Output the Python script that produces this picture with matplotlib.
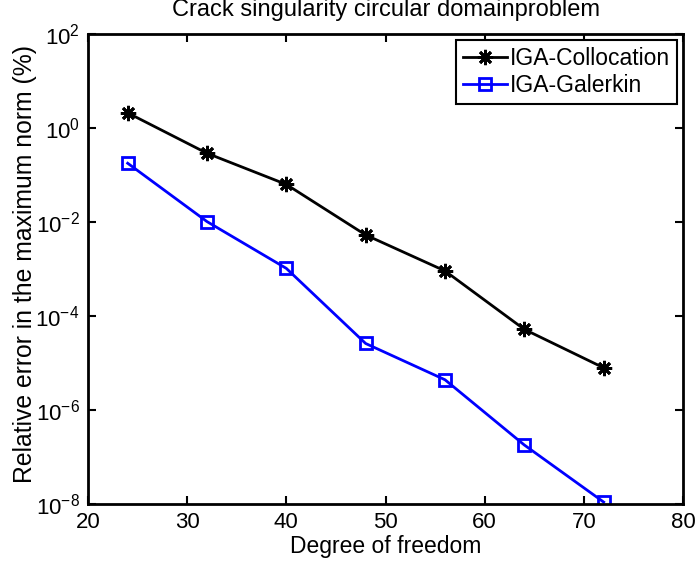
import math
import matplotlib
matplotlib.use("Agg")
import matplotlib.pyplot as plt
from matplotlib.ticker import FixedLocator, NullLocator, FuncFormatter

plt.rcParams['font.family'] = ['Liberation Sans', 'DejaVu Sans']

dof = [24, 32, 40, 48, 56, 64, 72]
colloc = [2.1, 0.29, 0.063, 0.0053, 9.1e-4, 5.2e-5, 7.9e-6]
galerkin = [0.178, 0.0102, 1.03e-3, 2.6e-5, 4.4e-6, 1.8e-7, 1.1e-8]
xticks = [20, 30, 40, 50, 60, 70, 80]
yticks = [1e-8, 1e-6, 1e-4, 1e-2, 1e0, 1e2]

fig = plt.figure(figsize=(6.97, 5.67), dpi=100)
ax = fig.add_axes([88/697, 63/567, (683-88)/697, (504-34)/567])

ax.plot(dof, colloc, color='black', lw=2, marker=(8, 2, 0), ms=11, mew=2,
        label='IGA-Collocation')
ax.plot(dof, galerkin, color='#0000ff', lw=2, marker='s', ms=9, mfc='none',
        mew=2, label='IGA-Galerkin')

ax.set_yscale('log')
ax.set_xlim(20, 80)
ax.set_ylim(1e-8, 1e2)
ax.xaxis.set_major_locator(FixedLocator(xticks))
ax.yaxis.set_major_locator(FixedLocator(yticks))
ax.yaxis.set_minor_locator(NullLocator())
ax.yaxis.set_major_formatter(FuncFormatter(
    lambda v, p: r'$\mathregular{10^{%d}}$' % round(math.log10(v))))

ax.tick_params(direction='in', top=True, right=True, length=6, width=1.5,
               labelsize=16, pad=6)
for s in ax.spines.values():
    s.set_linewidth(2)

ax.set_xlabel('Degree of freedom', fontsize=16.5, labelpad=1)
ax.set_ylabel('Relative error in the maximum norm (%)', fontsize=17.8, labelpad=-1)
ax.yaxis.label.set_y(0.51)
ax.set_title('Crack singularity circular domainproblem', fontsize=17, pad=13)

leg = ax.legend(loc='upper right', fontsize=16.5, fancybox=False, framealpha=1,
                edgecolor='black', handlelength=1.9, handletextpad=0.15,
                borderpad=0.3, labelspacing=0.2, borderaxespad=0.25)
leg.get_frame().set_linewidth(1.5)

fig.savefig('out.png', dpi=100)
